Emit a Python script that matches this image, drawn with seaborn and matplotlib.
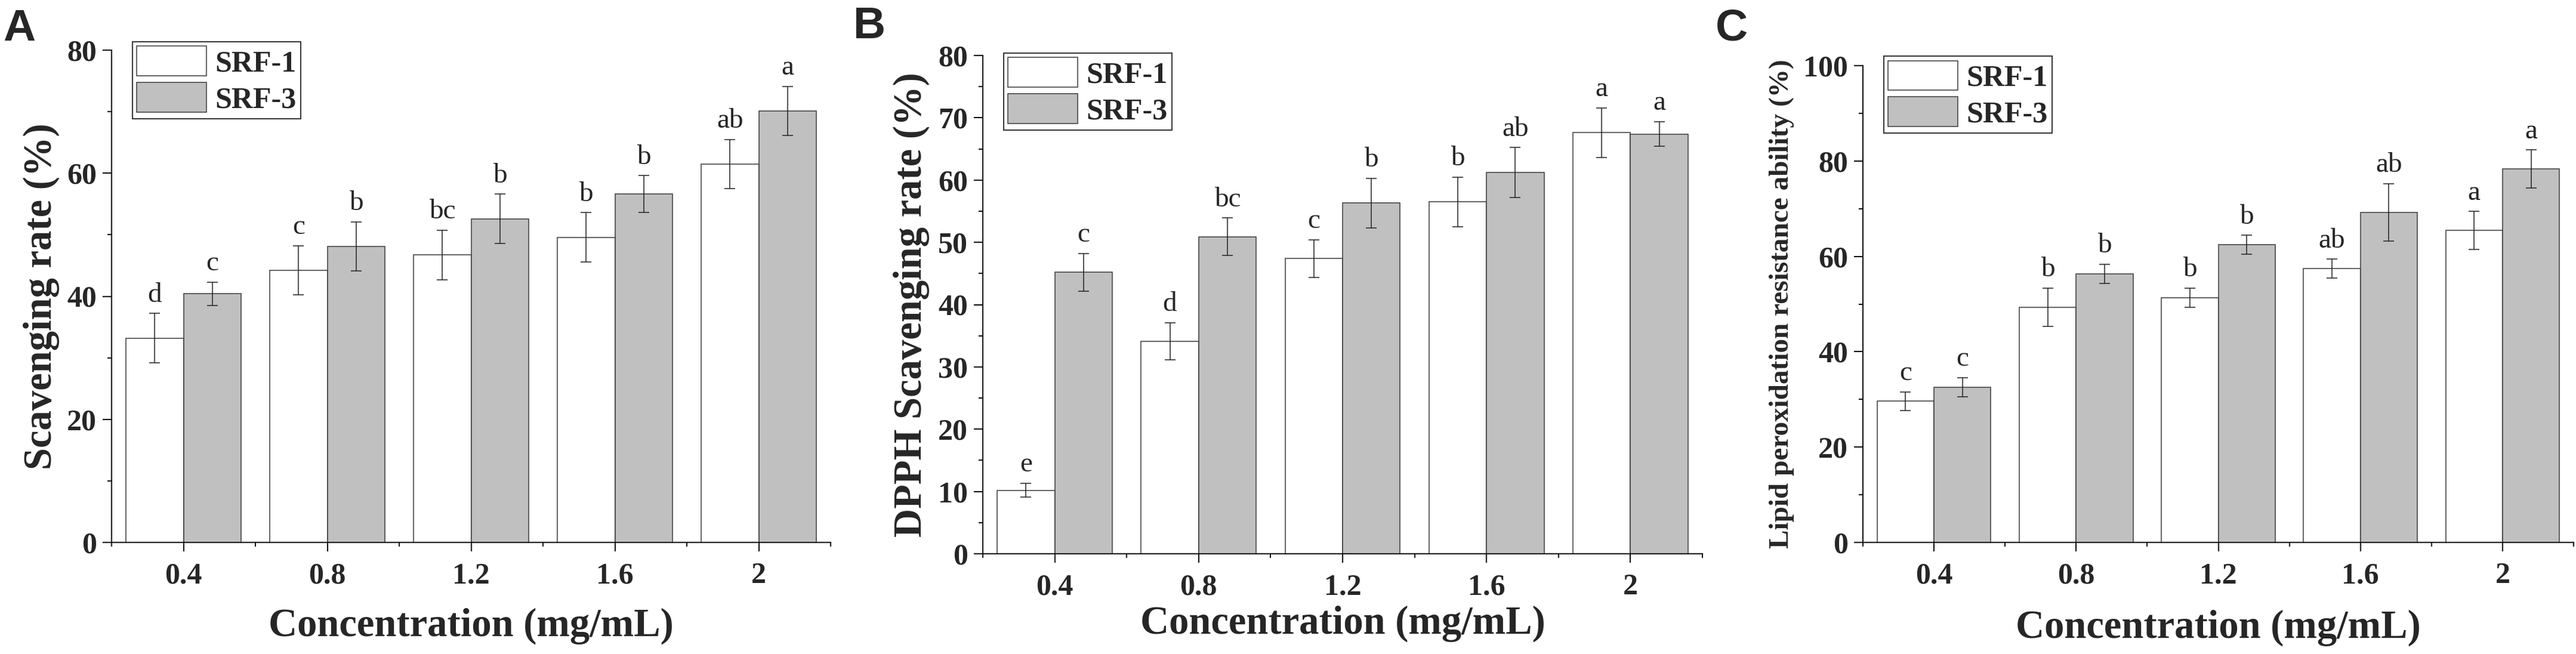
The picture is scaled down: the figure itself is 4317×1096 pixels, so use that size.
import numpy as np
import pandas as pd
import seaborn as sns
import matplotlib.pyplot as plt
from matplotlib.ticker import MultipleLocator, FixedLocator

# Categories
conc = ["0.4", "0.8", "1.2", "1.6", "2"]
groups = ["SRF-1", "SRF-3"]

# Panel A: scavenging rate
a_srf1 = [33.2, 44.2, 46.7, 49.6, 61.5]
a_srf3 = [40.4, 48.1, 52.6, 56.6, 70.1]
a_err1 = [4.0, 4.0, 4.0, 4.0, 4.0]
a_err3 = [1.9, 4.0, 4.0, 3.0, 4.0]
a_let1 = ["d", "c", "bc", "b", "ab"]
a_let3 = ["c", "b", "b", "b", "a"]

# Panel B: DPPH scavenging rate
b_srf1 = [10.2, 34.1, 47.4, 56.5, 67.6]
b_srf3 = [45.2, 50.9, 56.3, 61.2, 67.4]
b_err1 = [1.1, 3.0, 3.0, 4.0, 4.0]
b_err3 = [3.0, 3.0, 4.0, 4.0, 2.0]
b_let1 = ["e", "d", "c", "b", "a"]
b_let3 = ["c", "bc", "b", "ab", "a"]

# Panel C: lipid peroxidation resistance
c_srf1 = [29.6, 49.3, 51.3, 57.4, 65.4]
c_srf3 = [32.6, 56.3, 62.4, 69.2, 78.3]
c_err1 = [2.0, 4.0, 2.0, 2.0, 4.0]
c_err3 = [2.0, 2.0, 2.0, 6.0, 4.0]
c_let1 = ["c", "b", "b", "ab", "a"]
c_let3 = ["c", "b", "b", "ab", "a"]

sns.set_style("ticks")
plt.rcParams["font.family"] = ["Liberation Serif", "DejaVu Serif"]
plt.rcParams["font.weight"] = "bold"
plt.rcParams["axes.labelweight"] = "bold"

palette = {"SRF-1": "white", "SRF-3": "#c0c0c0"}

W, H = 4317, 1096
fig = plt.figure(figsize=(W / 100, H / 100), dpi=100)


def panel(box, v1, v3, e1, e3, l1, l3, ylabel, ymax, major, ylab_size,
          ylab_x, xlab_y, leg_anchor):
    left, top, right, bottom = box
    ax = fig.add_axes([left / W, 1 - bottom / H, (right - left) / W, (bottom - top) / H])
    df = pd.DataFrame({
        "conc": conc * 2,
        "group": [groups[0]] * len(conc) + [groups[1]] * len(conc),
        "value": list(v1) + list(v3),
    })
    sns.barplot(data=df, x="conc", y="value", hue="group", order=conc,
                hue_order=groups, palette=palette, saturation=1, width=0.8,
                edgecolor="#3a3a3a", linewidth=1.1, errorbar=None, ax=ax)
    bars = list(ax.containers)
    for cont, vals, errs, labs in zip(bars, [v1, v3], [e1, e3], [l1, l3]):
        for bar, v, e, lab in zip(cont, vals, errs, labs):
            x = bar.get_x() + bar.get_width() / 2
            ax.errorbar(x, v, yerr=e, fmt="none", ecolor="#222222",
                        elinewidth=1.1, capsize=6.5, capthick=1.1)
            ax.annotate(lab, (x, v + e), xytext=(0, 7), textcoords="offset points",
                        ha="center", va="bottom", fontsize=34, fontweight="normal")
    ax.set_xlim(-0.5, len(conc) - 0.5)
    ax.set_ylim(0, ymax)
    ax.yaxis.set_major_locator(MultipleLocator(major))
    ax.yaxis.set_minor_locator(MultipleLocator(major / 2))
    ax.xaxis.set_minor_locator(FixedLocator(np.arange(-0.5, len(conc), 1.0)))
    sns.despine(ax=ax)
    for s in ["left", "bottom"]:
        ax.spines[s].set_linewidth(1.5)
        ax.spines[s].set_color("#111111")
    ax.tick_params(which="major", length=11, width=1.5, color="#111111", labelsize=36)
    ax.tick_params(which="minor", length=5, width=1.5, color="#111111")
    ax.tick_params(axis="x", which="major", pad=13)
    ax.tick_params(axis="y", which="major", pad=7)
    ax.set_xlabel("Concentration (mg/mL)", fontsize=48, va="center")
    ax.set_ylabel(ylabel, fontsize=ylab_size, va="center")
    ax.xaxis.set_label_coords(0.5, xlab_y)
    ax.yaxis.set_label_coords(ylab_x, 0.5)
    handles, labels = ax.get_legend_handles_labels()
    leg = ax.legend(handles[:2], labels[:2], loc="upper left", bbox_to_anchor=leg_anchor,
                    borderaxespad=0, fontsize=36, handlelength=2.34, handleheight=1.16,
                    labelspacing=0.16, borderpad=0.15, handletextpad=0.28,
                    fancybox=False, framealpha=1, edgecolor="#333333")
    leg.get_frame().set_linewidth(1.4)
    return ax


panel((187, 84, 1392, 909), a_srf1, a_srf3, a_err1, a_err3, a_let1, a_let3,
      "Scavenging rate (%)", 80, 20, 48, -0.098, -0.170, (0.029, 1.017))
panel((1647, 93, 2853, 928), b_srf1, b_srf3, b_err1, b_err3, b_let1, b_let3,
      "DPPH Scavenging rate (%)", 80, 10, 48, -0.0995, -0.140, (0.029, 1.005))
panel((3122, 110, 4313, 909), c_srf1, c_srf3, c_err1, c_err3, c_let1, c_let3,
      "Lipid peroxidation resistance ability (%)", 100, 20, 34, -0.114, -0.179, (0.029, 1.02))

for lab, x, y in [("A", 5, 14), ("B", 1430, 10), ("C", 2875, 14)]:
    fig.text(x / W, 1 - y / H, lab, ha="left", va="top", fontsize=54,
             fontweight="bold", family=["Liberation Sans", "DejaVu Sans"])

fig.savefig("out.png", dpi=100)
